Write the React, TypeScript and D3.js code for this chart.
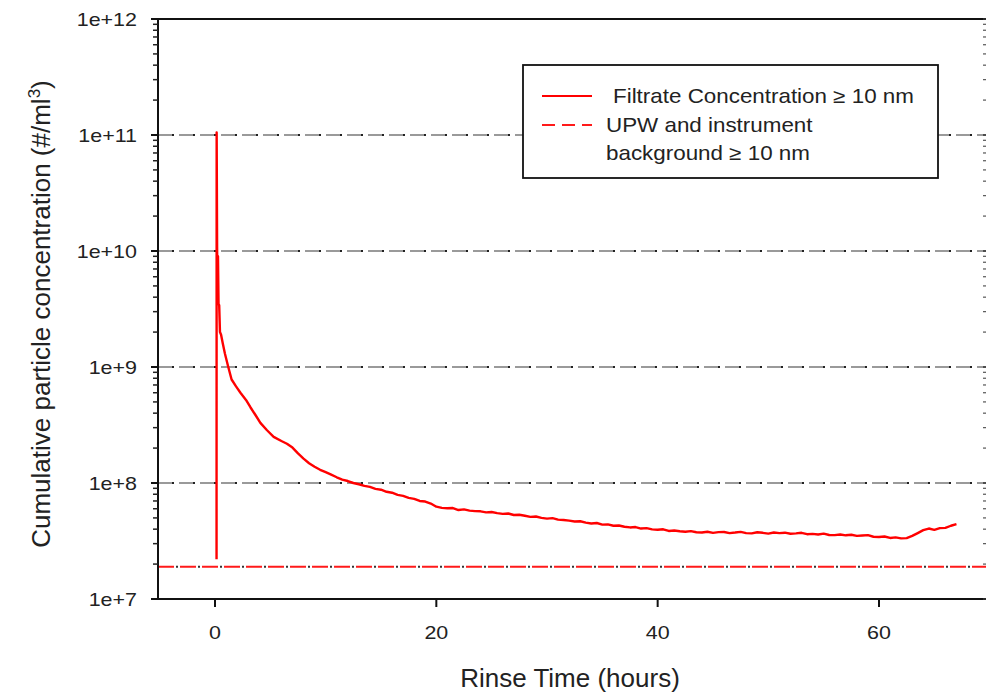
import React from "react";
import * as d3 from "d3";

// ---------- data ----------
const xTickValues = [0, 20, 40, 60];
const yMajorValues = [1e7, 1e8, 1e9, 1e10, 1e11, 1e12];
const yTickLabels = ["1e+7", "1e+8", "1e+9", "1e+10", "1e+11", "1e+12"];
const gridValues = [1e8, 1e9, 1e10, 1e11];
const backgroundLevel = 1.9e7;

const earlyHours = [
  0.14, 0.15, 0.19, 0.23, 0.27, 0.32, 0.38, 0.45, 0.55, 0.7, 0.9, 1.2, 1.5, 1.9, 2.3,
  2.8, 3.2, 3.7, 4.1, 4.7, 5.3, 6.0, 6.5, 7.0, 7.5, 8.0, 8.5, 9.0, 9.5, 10.0, 10.5,
  11.0, 11.5, 12.0, 12.5, 13.0, 13.5, 14.0, 14.5, 15.0, 15.5, 16.0, 16.5, 17.0, 17.5,
  18.0, 18.5, 19.0, 19.5,
];
const earlyConc = [
  2.2e7, 1.05e11, 1.1e10, 3.6e9, 9.0e9, 3.5e9, 3.4e9, 2.0e9, 1.9e9, 1.6e9, 1.3e9, 1.0e9,
  7.8e8, 6.8e8, 6.0e8, 5.2e8, 4.5e8, 3.8e8, 3.3e8, 2.85e8, 2.5e8, 2.3e8, 2.18e8, 2.02e8,
  1.8e8, 1.62e8, 1.48e8, 1.38e8, 1.3e8, 1.24e8, 1.18e8, 1.12e8, 1.07e8, 1.04e8, 1.0e8,
  9.75e7, 9.45e7, 9.25e7, 8.9e7, 8.75e7, 8.4e7, 8.25e7, 7.9e7, 7.75e7, 7.45e7, 7.3e7,
  7.0e7, 6.92e7, 6.65e7,
];
const lateHours = [
  20.0, 20.5, 21.0, 21.5, 22.0, 22.5, 23.0, 23.5, 24.0, 24.5, 25.0, 25.5, 26.0, 26.5,
  27.0, 27.5, 28.0, 28.5, 29.0, 29.5, 30.0, 30.5, 31.0, 31.5, 32.0, 32.5, 33.0, 33.5,
  34.0, 34.5, 35.0, 35.5, 36.0, 36.5, 37.0, 37.5, 38.0, 38.5, 39.0, 39.5, 40.0, 40.5,
  41.0, 41.5, 42.0, 42.5, 43.0, 43.5, 44.0, 44.5, 45.0, 45.5, 46.0, 46.5, 47.0, 47.5,
  48.0, 48.5, 49.0, 49.5, 50.0, 50.5, 51.0, 51.5, 52.0, 52.5, 53.0, 53.5, 54.0, 54.5,
  55.0, 55.5, 56.0, 56.5, 57.0, 57.5, 58.0, 58.5, 59.0, 59.5, 60.0, 60.5, 61.0, 61.5,
  62.0, 62.5, 63.0, 63.5, 64.0, 64.5, 65.0, 65.5, 66.0, 66.5, 67.0,
];
// in units of 1e7 #/ml
const lateConc = [
  6.25, 6.1, 6.05, 6.08, 5.85, 5.93, 5.78, 5.72, 5.7, 5.58, 5.62, 5.5, 5.42, 5.46, 5.3,
  5.33, 5.22, 5.1, 5.14, 5.0, 4.93, 4.98, 4.83, 4.8, 4.74, 4.66, 4.68, 4.55, 4.48, 4.52,
  4.38, 4.4, 4.28, 4.3, 4.2, 4.14, 4.17, 4.05, 4.08, 3.98, 3.95, 3.99, 3.86, 3.9, 3.84,
  3.8, 3.85, 3.76, 3.74, 3.8, 3.72, 3.77, 3.78, 3.7, 3.74, 3.79, 3.7, 3.68, 3.76, 3.72,
  3.66, 3.74, 3.7, 3.73, 3.65, 3.68, 3.72, 3.62, 3.64, 3.6, 3.66, 3.56, 3.55, 3.6, 3.54,
  3.58, 3.5, 3.53, 3.55, 3.44, 3.42, 3.46, 3.36, 3.4, 3.33, 3.35, 3.5, 3.7, 3.92, 4.05,
  3.94, 4.08, 4.1, 4.28, 4.42,
];

const legendSeries = ["Filtrate Concentration \u2265 10 nm", "UPW and instrument", "background \u2265 10 nm"];
const xTitle = "Rinse Time (hours)";
const yTitle = "Cumulative particle concentration (#/ml";

const FONT = "'Liberation Sans', Arial, Helvetica, sans-serif";

export default function App() {
  const W = 986;
  const H = 696;
  const x = d3.scaleLinear().domain([-5.15, 69.85]).range([158, 988]);
  const y = d3.scaleLog().domain([1e7, 1e12]).range([599, 19]);
  const [x0, x1] = x.range();
  const [y0, y1] = y.range();

  const points: [number, number][] = [
    ...earlyHours.map((h, i) => [h, earlyConc[i]] as [number, number]),
    ...lateHours.map((h, i) => [h, lateConc[i] * 1e7] as [number, number]),
  ];
  const line = d3
    .line<[number, number]>()
    .x((d) => x(d[0]))
    .y((d) => y(d[1]));

  const minorTicks: number[] = [];
  for (let d = 1e7; d < 1e12; d *= 10) {
    for (let k = 2; k <= 9; k++) minorTicks.push(k * d);
  }

  const bgY = y(backgroundLevel);

  return (
    <svg
      width={W}
      height={H}
      style={{ position: "absolute", left: 0, top: 0, background: "#fff" }}
      fontFamily={FONT}
    >
      <defs>
        <clipPath id="plot">
          <rect x={x0} y={y1} width={x1 - x0} height={y0 - y1} />
        </clipPath>
      </defs>

      {/* grid lines */}
      {gridValues.map((v) => (
        <g key={v}>
          <line x1={x0} x2={x1} y1={y(v)} y2={y(v)} stroke="#9a9a9a" strokeWidth={2} strokeDasharray="14 7" />
          <line x1={x0 + 14} x2={x1} y1={y(v)} y2={y(v)} stroke="#222" strokeWidth={2} strokeDasharray="2 19" />
        </g>
      ))}

      {/* background level */}
      <line x1={x0} x2={x1} y1={bgY} y2={bgY} stroke="#ff1a1a" strokeWidth={2} strokeDasharray="16 6" />
      <line x1={x0 + 18} x2={x1} y1={bgY} y2={bgY} stroke="#333" strokeWidth={2} strokeDasharray="2 20" />

      {/* filtrate concentration */}
      <path
        d={line(points) || ""}
        fill="none"
        stroke="#ff0000"
        strokeWidth={2.4}
        strokeLinejoin="round"
        clipPath="url(#plot)"
      />

      {/* axes frame */}
      <line x1={x0} x2={x1} y1={y1} y2={y1} stroke="#111" strokeWidth={2} />
      <line x1={x0} x2={x1} y1={y0} y2={y0} stroke="#111" strokeWidth={2} />
      <line x1={x0} x2={x0} y1={y1 - 1} y2={y0 + 1} stroke="#111" strokeWidth={2} />
      <line x1={x1 - 1.5} x2={x1 - 1.5} y1={y1} y2={y0} stroke="#bbb" strokeWidth={1} strokeDasharray="2 3" />

      {/* y ticks */}
      {yMajorValues.map((v) => (
        <g key={"M" + v}>
          <line x1={x0 - 7} x2={x0} y1={y(v)} y2={y(v)} stroke="#111" strokeWidth={2} />
          <line x1={x1 - 5} x2={x1} y1={y(v)} y2={y(v)} stroke="#333" strokeWidth={1.5} />
        </g>
      ))}
      {minorTicks.map((v) => (
        <g key={"m" + v}>
          <line x1={x0 - 5} x2={x0} y1={y(v)} y2={y(v)} stroke="#222" strokeWidth={1.5} />
          <line x1={x1 - 5} x2={x1} y1={y(v)} y2={y(v)} stroke="#555" strokeWidth={1.2} />
        </g>
      ))}
      {yMajorValues.map((v, i) => (
        <text
          key={"l" + v}
          transform={`translate(${x0 - 21},${y(v) + 6.5}) scale(1.13,1)`}
          textAnchor="end"
          fontSize={19}
          fill="#222"
        >
          {yTickLabels[i]}
        </text>
      ))}

      {/* x ticks */}
      {xTickValues.map((v) => (
        <g key={"x" + v}>
          <line x1={x(v)} x2={x(v)} y1={y0} y2={y0 + 8} stroke="#111" strokeWidth={2} />
          <text
            transform={`translate(${x(v)},${y0 + 40}) scale(1.13,1)`}
            textAnchor="middle"
            fontSize={19}
            fill="#222"
          >
            {v}
          </text>
        </g>
      ))}

      {/* axis titles */}
      <text x={570} y={687} textAnchor="middle" fontSize={26} fill="#222">
        {xTitle}
      </text>
      <text transform={`translate(50,314) rotate(-90)`} textAnchor="middle" fontSize={26} fill="#222">
        {yTitle}
        <tspan dy={-10} fontSize={17}>3</tspan>
        <tspan dy={10}>)</tspan>
      </text>

      {/* legend */}
      <rect x={523} y={65} width={415} height={113} fill="#fff" stroke="#111" strokeWidth={1.8} />
      <line x1={542} x2={592} y1={96} y2={96} stroke="#ff0000" strokeWidth={2} />
      <line x1={542} x2={592} y1={125} y2={125} stroke="#ff1a1a" strokeWidth={2} strokeDasharray="13 7" />
      <text transform={`translate(613,103) scale(1.12,1)`} fontSize={20} fill="#222">
        {legendSeries[0]}
      </text>
      <text transform={`translate(606,132) scale(1.12,1)`} fontSize={20} fill="#222">
        {legendSeries[1]}
      </text>
      <text transform={`translate(606,160) scale(1.12,1)`} fontSize={20} fill="#222">
        {legendSeries[2]}
      </text>
    </svg>
  );
}
